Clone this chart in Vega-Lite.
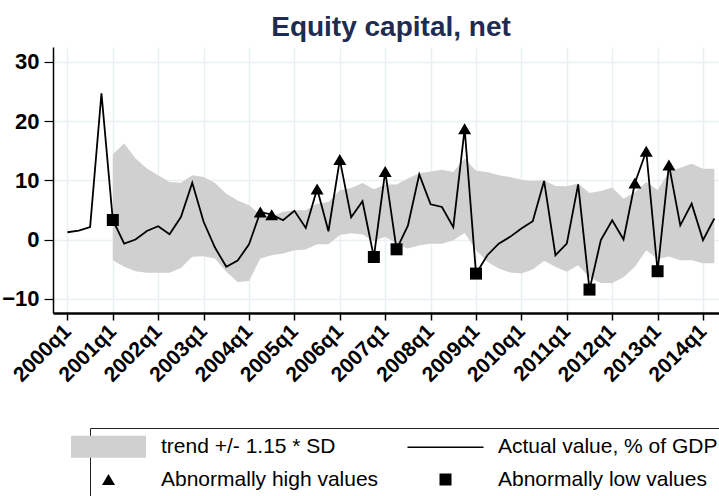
{
  "$schema": "https://vega.github.io/schema/vega-lite/v6.json",
  "width": 666,
  "height": 266,
  "autosize": "none",
  "padding": {"left": 53, "top": 47, "right": 0, "bottom": 183},
  "background": "white",
  "title": {
    "text": "Equity capital, net",
    "font": "Liberation Sans",
    "fontSize": 28,
    "fontWeight": "bold",
    "color": "#1e2b52",
    "anchor": "middle",
    "dx": 5,
    "offset": 5
  },
  "config": {
    "view": {"stroke": null},
    "axis": {
      "grid": true,
      "gridColor": "#e8f0f2",
      "gridWidth": 1.5,
      "domainColor": "black",
      "tickColor": "black",
      "labelColor": "black",
      "labelFont": "Liberation Sans",
      "labelFontWeight": "bold",
      "title": null
    }
  },
  "data": {
    "values": [
      {"q": 0, "v": 1.23},
      {"q": 1, "v": 1.5},
      {"q": 2, "v": 2.1},
      {"q": 3, "v": 24.7},
      {"q": 4, "v": 3.3, "lo": -3.5, "hi": 14.4, "type": "Abnormally low values"},
      {"q": 5, "v": -0.7, "lo": -4.6, "hi": 16.2},
      {"q": 6, "v": 0.0, "lo": -5.35, "hi": 13.7},
      {"q": 7, "v": 1.45, "lo": -5.6, "hi": 12.0},
      {"q": 8, "v": 2.25, "lo": -5.6, "hi": 10.85},
      {"q": 9, "v": 0.9, "lo": -5.6, "hi": 9.7},
      {"q": 10, "v": 3.8, "lo": -4.8, "hi": 9.6},
      {"q": 11, "v": 9.6, "lo": -2.9, "hi": 10.85},
      {"q": 12, "v": 3.0, "lo": -2.8, "hi": 10.55},
      {"q": 13, "v": -1.35, "lo": -3.2, "hi": 9.55},
      {"q": 14, "v": -4.6, "lo": -5.45, "hi": 7.75},
      {"q": 15, "v": -3.55, "lo": -7.15, "hi": 6.6},
      {"q": 16, "v": -0.8, "lo": -7.0, "hi": 5.8},
      {"q": 17, "v": 4.65, "lo": -3.2, "hi": 4.2, "type": "Abnormally high values"},
      {"q": 18, "v": 4.2, "lo": -2.65, "hi": 3.9, "type": "Abnormally high values"},
      {"q": 19, "v": 3.25, "lo": -2.35, "hi": 4.7},
      {"q": 20, "v": 4.85, "lo": -1.8, "hi": 4.95},
      {"q": 21, "v": 1.95, "lo": -1.7, "hi": 4.95},
      {"q": 22, "v": 8.55, "lo": -0.8, "hi": 6.05, "type": "Abnormally high values"},
      {"q": 23, "v": 1.4, "lo": -0.8, "hi": 6.35},
      {"q": 24, "v": 13.5, "lo": 0.75, "hi": 8.3, "type": "Abnormally high values"},
      {"q": 25, "v": 3.75, "lo": 1.05, "hi": 8.7},
      {"q": 26, "v": 6.45, "lo": 0.85, "hi": 9.55},
      {"q": 27, "v": -2.95, "lo": -0.3, "hi": 8.5, "type": "Abnormally low values"},
      {"q": 28, "v": 11.5, "lo": 0.45, "hi": 9.3, "type": "Abnormally high values"},
      {"q": 29, "v": -1.65, "lo": -0.7, "hi": 9.3, "type": "Abnormally low values"},
      {"q": 30, "v": 2.35, "lo": -1.5, "hi": 10.3},
      {"q": 31, "v": 11.0, "lo": -0.95, "hi": 11.2},
      {"q": 32, "v": 5.95, "lo": -0.7, "hi": 11.5},
      {"q": 33, "v": 5.5, "lo": -0.7, "hi": 11.8},
      {"q": 34, "v": 2.1, "lo": -0.1, "hi": 11.4},
      {"q": 35, "v": 18.7, "lo": 1.1, "hi": 13.7, "type": "Abnormally high values"},
      {"q": 36, "v": -5.75, "lo": -1.8, "hi": 11.6, "type": "Abnormally low values"},
      {"q": 37, "v": -2.65, "lo": -3.75, "hi": 11.4},
      {"q": 38, "v": -0.7, "lo": -4.9, "hi": 10.85},
      {"q": 39, "v": 0.45, "lo": -5.55, "hi": 10.55},
      {"q": 40, "v": 1.85, "lo": -5.75, "hi": 10.1},
      {"q": 41, "v": 3.1, "lo": -5.05, "hi": 9.9},
      {"q": 42, "v": 9.9, "lo": -3.6, "hi": 10.0},
      {"q": 43, "v": -2.65, "lo": -4.6, "hi": 9.05},
      {"q": 44, "v": -0.7, "lo": -5.45, "hi": 9.0},
      {"q": 45, "v": 9.3, "lo": -4.35, "hi": 9.45},
      {"q": 46, "v": -8.45, "lo": -6.4, "hi": 7.85, "type": "Abnormally low values"},
      {"q": 47, "v": -0.1, "lo": -7.35, "hi": 8.2},
      {"q": 48, "v": 3.25, "lo": -7.35, "hi": 8.8},
      {"q": 49, "v": 0.0, "lo": -6.35, "hi": 6.9},
      {"q": 50, "v": 9.55, "lo": -4.6, "hi": 8.0, "type": "Abnormally high values"},
      {"q": 51, "v": 14.9, "lo": -1.8, "hi": 9.7, "type": "Abnormally high values"},
      {"q": 52, "v": -5.35, "lo": -3.3, "hi": 8.35, "type": "Abnormally low values"},
      {"q": 53, "v": 12.6, "lo": -2.85, "hi": 11.4, "type": "Abnormally high values"},
      {"q": 54, "v": 2.4, "lo": -3.5, "hi": 12.1},
      {"q": 55, "v": 6.05, "lo": -3.5, "hi": 12.8},
      {"q": 56, "v": -0.1, "lo": -4.0, "hi": 11.95},
      {"q": 57, "v": 3.55, "lo": -4.0, "hi": 11.95}
    ]
  },
  "encoding": {
    "x": {
      "field": "q",
      "type": "quantitative",
      "scale": {"domain": [-1.27, 57.41], "nice": false, "zero": false},
      "axis": {
        "values": [0, 4, 8, 12, 16, 20, 24, 28, 32, 36, 40, 44, 48, 52, 56],
        "labelExpr": "(2000 + datum.value / 4) + 'q1'",
        "labelAngle": -45,
        "labelAlign": "right",
        "labelBaseline": "middle",
        "labelFontSize": 21,
        "labelPadding": 8,
        "labelFlush": false,
        "labelOverlap": false,
        "tickSize": 7,
        "tickWidth": 1.5,
        "domainWidth": 2.5
      }
    },
    "y": {
      "field": "v",
      "type": "quantitative",
      "scale": {"domain": [-12.4, 32.5], "nice": false, "zero": false},
      "axis": {
        "values": [-10, 0, 10, 20, 30],
        "labelFontSize": 22,
        "labelPadding": 5,
        "tickSize": 9,
        "tickWidth": 1.2,
        "domainWidth": 1.5
      }
    }
  },
  "layer": [
    {
      "transform": [{"filter": "datum.lo != null"}],
      "mark": {"type": "area", "color": "#d0d0d0", "opacity": 1},
      "encoding": {
        "y": {"field": "lo", "type": "quantitative"},
        "y2": {"field": "hi"}
      }
    },
    {
      "mark": {"type": "line", "color": "black", "strokeWidth": 1.8},
      "encoding": {}
    },
    {
      "transform": [{"filter": "datum.type != null"}],
      "mark": {"type": "point", "filled": true, "opacity": 1, "size": 400, "strokeWidth": 0},
      "encoding": {
        "shape": {
          "field": "type",
          "type": "nominal",
          "scale": {
            "domain": ["trend +/- 1.15 * SD", "Actual value, % of GDP", "Abnormally high values", "Abnormally low values"],
            "range": ["M-3.75,-1.1H3.75V1.1H-3.75Z", "M-3.8,-0.08H3.8V0.08H-3.8Z", "M-0.65,0.55L0.65,0.55L0,-0.55Z", "M-0.6,-0.6H0.6V0.6H-0.6Z"]
          },
          "legend": {
            "title": null,
            "orient": "none",
            "direction": "horizontal",
            "legendX": 37,
            "legendY": 381,
            "columns": 2,
            "symbolSize": 400,
            "symbolStrokeWidth": 0,
            "symbolOpacity": 1,
            "labelFont": "Liberation Sans",
            "labelFontSize": 21,
            "labelColor": "black",
            "labelOffset": 42,
            "labelLimit": 400,
            "columnPadding": 28,
            "rowPadding": 10,
            "strokeColor": "#222222",
            "fillColor": "white",
            "padding": 8
          }
        },
        "color": {
          "field": "type",
          "type": "nominal",
          "scale": {
            "domain": ["trend +/- 1.15 * SD", "Actual value, % of GDP", "Abnormally high values", "Abnormally low values"],
            "range": ["#d0d0d0", "black", "black", "black"]
          },
          "legend": {
            "title": null,
            "orient": "none",
            "direction": "horizontal",
            "legendX": 37,
            "legendY": 381,
            "columns": 2,
            "symbolSize": 400,
            "symbolStrokeWidth": 0,
            "symbolOpacity": 1,
            "labelFont": "Liberation Sans",
            "labelFontSize": 21,
            "labelColor": "black",
            "labelOffset": 42,
            "labelLimit": 400,
            "columnPadding": 28,
            "rowPadding": 10,
            "strokeColor": "#222222",
            "fillColor": "white",
            "padding": 8
          }
        }
      }
    }
  ]
}
